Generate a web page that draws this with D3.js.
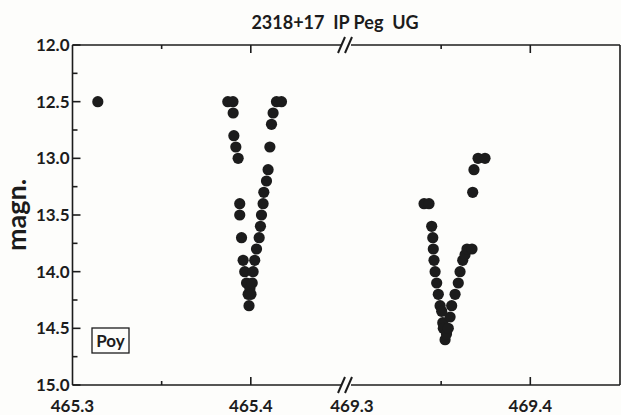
<!DOCTYPE html>
<html><head><meta charset="utf-8">
<script src="https://cdn.jsdelivr.net/npm/d3@7"></script>
<style>
html,body{margin:0;padding:0;background:#fdfdfb;}
svg{display:block;}
text{font-family:Lato,"Open Sans",sans-serif;font-weight:bold;fill:#1c1c1c;}
</style></head>
<body>
<script>
// ---- data ----
const title = "2318+17\u00a0\u00a0IP Peg\u00a0\u00a0UG";
const yLabel = "magn.";
const observer = "Poy";
// segment 1
const jd1 = [465.3142, 465.3871, 465.3900, 465.3901, 465.3905, 465.3916, 465.3929, 465.3938, 465.3938, 465.3948,
             465.3957, 465.3966, 465.3976, 465.3985, 465.3990, 465.3995, 465.4001, 465.4008, 465.4013, 465.4022, 465.4032, 465.4047,
             465.4054, 465.4060, 465.4069, 465.4073, 465.4088, 465.4097, 465.4107, 465.4116, 465.4125, 465.4144, 465.4172];
const mag1 = [12.5, 12.5, 12.5, 12.6, 12.8, 12.9, 13.0, 13.4, 13.5, 13.7,
              13.9, 14.0, 14.1, 14.2, 14.3, 14.15, 14.2, 14.1, 14.0, 13.9, 13.8, 13.7,
              13.6, 13.5, 13.4, 13.3, 13.2, 13.1, 12.9, 12.7, 12.6, 12.5, 12.5];
// segment 2
const jd2 = [469.3404, 469.3432, 469.3447, 469.3453, 469.3456, 469.3460, 469.3466, 469.3475, 469.3484, 469.3494,
             469.3503, 469.3509, 469.3512, 469.3522, 469.3530, 469.3540, 469.3550, 469.3559, 469.3578, 469.3596, 469.3606,
             469.3621, 469.3634, 469.3645, 469.3673, 469.3677, 469.3684, 469.3707, 469.3746];
const mag2 = [13.4, 13.4, 13.6, 13.7, 13.8, 13.9, 14.0, 14.1, 14.2, 14.3,
              14.35, 14.45, 14.5, 14.6, 14.55, 14.5, 14.4, 14.3, 14.2, 14.1, 14.0,
              13.9, 13.85, 13.8, 13.8, 13.3, 13.1, 13.0, 13.0];
const xMajor1 = [465.3, 465.4], xMinor1 = [465.35];
const xMajor2 = [469.3, 469.4], xMinor2 = [469.35];
const yMajor = [12.0, 12.5, 13.0, 13.5, 14.0, 14.5, 15.0];
const yMinor = [12.25, 12.75, 13.25, 13.75, 14.25, 14.75];

// ---- layout ----
const W = 621, H = 415;
const L = 72.5, R = 620, T = 45, B = 385, BRK = 346;
const x1 = d3.scaleLinear().domain([465.3, 465.3 + (BRK - L) / 1783]).range([L, BRK]);
const x2 = d3.scaleLinear().domain([469.3 - (352 - BRK) / 1783, 469.3 + (R - 352) / 1783]).range([BRK, R]);
const y = d3.scaleLinear().domain([12, 15]).range([T, B]);
const ink = "#1c1c1c";

const svg = d3.select("body").append("svg").attr("width", W).attr("height", H);
svg.append("rect").attr("width", W).attr("height", H).attr("fill", "#fdfdfb");

const g = svg.append("g").attr("stroke", ink).attr("stroke-width", 1.6).attr("fill", "none");
g.append("line").attr("x1", L).attr("x2", L).attr("y1", T).attr("y2", B);
g.append("line").attr("x1", R).attr("x2", R).attr("y1", T).attr("y2", B);
[T, B].forEach(yy => {
  g.append("line").attr("x1", L).attr("x2", BRK - 5).attr("y1", yy).attr("y2", yy);
  g.append("line").attr("x1", BRK + 5).attr("x2", R).attr("y1", yy).attr("y2", yy);
  g.append("line").attr("x1", BRK - 8).attr("y1", yy + 8).attr("x2", BRK - 1).attr("y2", yy - 8).attr("stroke-width", 2);
  g.append("line").attr("x1", BRK - 1).attr("y1", yy + 8).attr("x2", BRK + 6).attr("y2", yy - 8).attr("stroke-width", 2);
});
function xt(sc, vals, len) {
  vals.forEach(v => {
    const xx = sc(v);
    g.append("line").attr("x1", xx).attr("x2", xx).attr("y1", B).attr("y2", B - len);
    g.append("line").attr("x1", xx).attr("x2", xx).attr("y1", T).attr("y2", T + len);
  });
}
xt(x1, xMajor1.filter(v => x1(v) > L + 1), 8); xt(x1, xMinor1, 4);
xt(x2, xMajor2.filter(v => x2(v) > BRK + 8), 8); xt(x2, xMinor2, 4);
yMajor.forEach(v => g.append("line").attr("x1", L).attr("x2", L + 8).attr("y1", y(v)).attr("y2", y(v)));
yMinor.forEach(v => g.append("line").attr("x1", L).attr("x2", L + 5).attr("y1", y(v)).attr("y2", y(v)));

const lab = svg.append("g").attr("font-size", 17);
yMajor.forEach(v => lab.append("text").attr("x", L - 3).attr("y", y(v) + 6).attr("text-anchor", "end").text(v.toFixed(1)));
xMajor1.forEach(v => lab.append("text").attr("x", x1(v)).attr("y", 412).attr("text-anchor", "middle").text(v.toFixed(1)));
xMajor2.forEach(v => lab.append("text").attr("x", x2(v)).attr("y", 412).attr("text-anchor", "middle").text(v.toFixed(1)));
svg.append("text").attr("x", 335).attr("y", 29).attr("text-anchor", "middle").attr("font-size", 18).text(title);
svg.append("text").attr("transform", "translate(26,215) rotate(-90)").attr("text-anchor", "middle")
  .attr("font-size", 27).text(yLabel);

svg.append("rect").attr("x", 92).attr("y", 328).attr("width", 37).attr("height", 25)
  .attr("fill", "none").attr("stroke", ink).attr("stroke-width", 1.3);
svg.append("text").attr("x", 110.5).attr("y", 347).attr("text-anchor", "middle").attr("font-size", 17).text(observer);

const pts = svg.append("g").attr("fill", ink);
jd1.forEach((d, i) => pts.append("circle").attr("cx", x1(d)).attr("cy", y(mag1[i])).attr("r", 5.6));
jd2.forEach((d, i) => pts.append("circle").attr("cx", x2(d)).attr("cy", y(mag2[i])).attr("r", 5.6));
</script>
</body></html>
